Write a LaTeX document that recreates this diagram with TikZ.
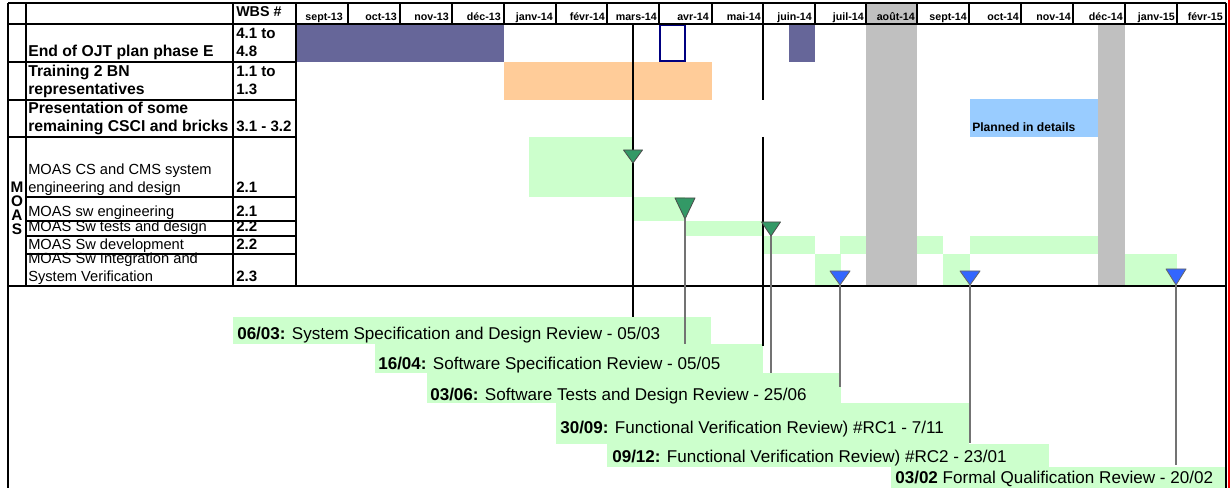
\documentclass[tikz,border=0pt]{standalone}
\usepackage{fontspec}
\setmainfont{Liberation Sans}
\definecolor{slate}{HTML}{666699}
\definecolor{peach}{HTML}{FFCC99}
\definecolor{mint}{HTML}{CCFFCC}
\definecolor{sky}{HTML}{99CCFF}
\definecolor{greyband}{HTML}{C0C0C0}
\definecolor{msgreen}{HTML}{339966}
\definecolor{msblue}{HTML}{3366FF}
\definecolor{navyline}{HTML}{000080}
\newcommand{\fsz}[1]{\fontsize{#1}{#1}\selectfont}
\begin{document}
\begin{tikzpicture}[x=0.75pt,y=0.75pt,
  every node/.style={inner sep=0pt},
  grid/.style={black,line width=1.3pt},
  month/.style={anchor=base east,font=\bfseries\fsz{8}},
  taskb/.style={anchor=base west,font=\bfseries\fsz{11.8}},
  taskr/.style={anchor=base west,font=\fsz{11}},
  wbs/.style={anchor=base west,font=\bfseries\fsz{11.3}},
  review/.style={anchor=base west,font=\fsz{12.8}},
  gate/.style={black,line width=1.5pt},
  leader/.style={black!55,line width=0.9pt},
  gtri/.style={fill=msgreen,draw=black!70,line width=0.6pt,line join=round},
  btri/.style={fill=msblue,draw=black!60,line width=0.6pt,line join=round}]
\useasboundingbox [fill=white] (0,0) rectangle (1231,-488);
% shaded months
\fill [greyband] (866,-3) rectangle (917,-286);
\fill [greyband] (1098,-24) rectangle (1125,-286);
% bars
\fill [slate] (297,-24) rectangle (504,-62);
\fill [slate] (789,-24) rectangle (815,-62);
\draw [navyline,line width=1.5pt] (660,-25) rectangle (685,-61);
\fill [peach] (504,-62) rectangle (712,-100);
\fill [sky] (970,-99) rectangle (1098,-137);
\fill [mint] (529,-137) rectangle (633,-197);
\fill [mint] (633,-197) rectangle (685,-221);
\fill [mint] (685,-221) rectangle (763,-236);
\fill [mint] (763,-236) rectangle (815,-254);
\fill [mint] (840,-236) rectangle (866,-254);
\fill [mint] (917,-236) rectangle (943,-254);
\fill [mint] (970,-236) rectangle (1098,-254);
\fill [mint] (815,-254) rectangle (841,-286);
\fill [mint] (943,-254) rectangle (970,-286);
\fill [mint] (1125,-254) rectangle (1177,-286);
% review boxes
\fill [mint] (233,-317) rectangle (711,-344);
\fill [mint] (375,-344) rectangle (763,-373);
\fill [mint] (427,-373) rectangle (841,-403);
\fill [mint] (556,-403) rectangle (969,-444);
\fill [mint] (607,-444) rectangle (1049,-467);
\fill [mint] (891,-467) rectangle (1226,-488);
% header
\node [anchor=base west,font=\bfseries\fsz{10.7}] (wbshead) at (236,-16.5) {WBS \#};
\node [month] (m1) at (343,-21) {sept-13};
\node [month] (m2) at (397,-21) {oct-13};
\node [month] (m3) at (449,-21) {nov-13};
\node [month] (m4) at (501,-21) {déc-13};
\node [month] (m5) at (553,-21) {janv-14};
\node [month] (m6) at (605,-21) {févr-14};
\node [month] (m7) at (657,-21) {mars-14};
\node [month] (m8) at (709,-21) {avr-14};
\node [month] (m9) at (761,-21) {mai-14};
\node [month] (m10) at (812,-21) {juin-14};
\node [month] (m11) at (864,-21) {juil-14};
\node [month] (m12) at (915,-21) {août-14};
\node [month] (m13) at (967,-21) {sept-14};
\node [month] (m14) at (1019,-21) {oct-14};
\node [month] (m15) at (1071,-21) {nov-14};
\node [month] (m16) at (1123,-21) {déc-14};
\node [month] (m17) at (1175,-21) {janv-15};
\node [month] (m18) at (1223,-21) {févr-15};
% tasks
\node [wbs] (w1a) at (236,-38.5) {4.1 to};
\node [wbs] (w1b) at (236,-57) {4.8};
\node [taskb] (t1) at (28,-57) {End of OJT plan phase E};
\node [taskb] (t2a) at (28,-76.5) {Training 2 BN};
\node [taskb] (t2b) at (28,-95) {representatives};
\node [wbs] (w2a) at (236,-76.5) {1.1 to};
\node [wbs] (w2b) at (236,-95) {1.3};
\node [taskb] (t3a) at (28,-113.5) {Presentation of some};
\node [taskb] (t3b) at (28,-132) {remaining CSCI and bricks};
\node [wbs] (w3) at (236,-132) {3.1 - 3.2};
\node [anchor=base west,font=\bfseries\fsz{9.1}] (plan) at (972,-132) {Planned in details};
\node [taskr] (t4a) at (28,-174.5) {MOAS CS and CMS system};
\node [taskr] (t4b) at (28,-192.5) {engineering and design};
\node [wbs] (w4) at (236,-192.5) {2.1};
\node [taskr] (t5) at (28,-216.5) {MOAS sw engineering};
\node [wbs] (w5) at (236,-216.5) {2.1};
\node [taskr] (t6) at (28,-231.5) {MOAS Sw tests and design};
\node [wbs] (w6) at (236,-231.5) {2.2};
\node [taskr] (t7) at (28,-249.5) {MOAS Sw development};
\node [wbs] (w7) at (236,-249.5) {2.2};
\node [taskr] (t8a) at (28,-263.5) {MOAS Sw Integration and};
\node [taskr] (t8b) at (28,-281.5) {System Verification};
\node [wbs] (w8) at (236,-281.5) {2.3};
% MOAS letters
\node [font=\bfseries\fsz{11.5}] (lm) at (17,-187) {M};
\node [font=\bfseries\fsz{11.5}] (lo) at (17,-201) {O};
\node [font=\bfseries\fsz{11.5}] (la) at (17,-215) {A};
\node [font=\bfseries\fsz{11.5}] (ls) at (17,-229) {S};
% reviews
\node [review] (rv1) at (237,-339) {\textbf{06/03:} System Specification and Design Review - 05/03};
\node [review] (rv2) at (378,-369) {\textbf{16/04:} Software Specification Review - 05/05};
\node [review] (rv3) at (430,-400) {\textbf{03/06:} Software Tests and Design Review - 25/06};
\node [review] (rv4) at (560,-433) {\textbf{30/09:} Functional Verification Review) \#RC1 - 7/11};
\node [review] (rv5) at (612,-462) {\textbf{09/12:} Functional Verification Review) \#RC2 - 23/01};
\node [review] (rv6) at (895,-483) {\textbf{03/02} Formal Qualification Review - 20/02};
% table lines
\draw [grid] (8,-3) -- (1226,-3);
\draw [grid] (8,-24) -- (1226,-24);
\draw [grid] (8,-62) -- (296,-62);
\draw [grid] (8,-100) -- (296,-100);
\draw [grid] (8,-137) -- (296,-137);
\draw [grid] (26,-197) -- (296,-197);
\draw [grid] (26,-221) -- (296,-221);
\draw [grid] (26,-236) -- (296,-236);
\draw [grid] (26,-254) -- (296,-254);
\draw [grid] (8,-286) -- (1226,-286);
\draw [grid] (8,-3) -- (8,-488);
\draw [grid] (26,-3) -- (26,-286);
\draw [grid] (233,-3) -- (233,-286);
\draw [grid] (296,-3) -- (296,-286);
\draw [grid] (1226,-3) -- (1226,-488);
\draw [red,line width=1pt] (1229,0) -- (1229,-488);
\draw [grid] (348,-3) -- (348,-24) (400,-3) -- (400,-24) (452,-3) -- (452,-24)
  (504,-3) -- (504,-24) (556,-3) -- (556,-24) (607,-3) -- (607,-24)
  (659,-3) -- (659,-24) (712,-3) -- (712,-24) (763,-3) -- (763,-24)
  (815,-3) -- (815,-24) (866,-3) -- (866,-24) (917,-3) -- (917,-24)
  (969,-3) -- (969,-24) (1021,-3) -- (1021,-24) (1073,-3) -- (1073,-24)
  (1125,-3) -- (1125,-24) (1177,-3) -- (1177,-24);
% milestones
\coordinate (s1) at (633,-24);
\coordinate (e1) at (633,-317);
\coordinate (s2) at (763,-24);
\coordinate (s2b) at (763,-100);
\coordinate (s2c) at (763,-137);
\coordinate (e2) at (763,-346);
\coordinate (g1) at (633,-163);
\coordinate (g2) at (685,-219);
\coordinate (g3) at (771,-236);
\coordinate (b1) at (840,-285);
\coordinate (b2) at (970,-285);
\coordinate (b3) at (1176,-285);
\coordinate (e3) at (685,-344);
\coordinate (e4) at (771,-373);
\coordinate (e5) at (840,-387);
\coordinate (e6) at (970,-443);
\coordinate (e7) at (1176,-465);
\draw [gate] (s1) -- (e1);
\draw [gate] (s2) -- (s2b);
\draw [gate] (s2c) -- (e2);
\draw [leader] (g2) -- (e3);
\draw [leader] (g3) -- (e4);
\draw [leader] (b1) -- (e5);
\draw [leader] (b2) -- (e6);
\draw [leader] (b3) -- (e7);
\filldraw [gtri] (g1) -- ++(-9.5,13) -- ++(19,0) -- cycle;
\filldraw [gtri] (g2) -- ++(-10,21) -- ++(20,0) -- cycle;
\filldraw [gtri] (g3) -- ++(-9.5,14) -- ++(19,0) -- cycle;
\filldraw [btri] (b1) -- ++(-10,14) -- ++(20,0) -- cycle;
\filldraw [btri] (b2) -- ++(-10,14) -- ++(20,0) -- cycle;
\filldraw [btri] (b3) -- ++(-10,16) -- ++(20,0) -- cycle;
\end{tikzpicture}
\end{document}
